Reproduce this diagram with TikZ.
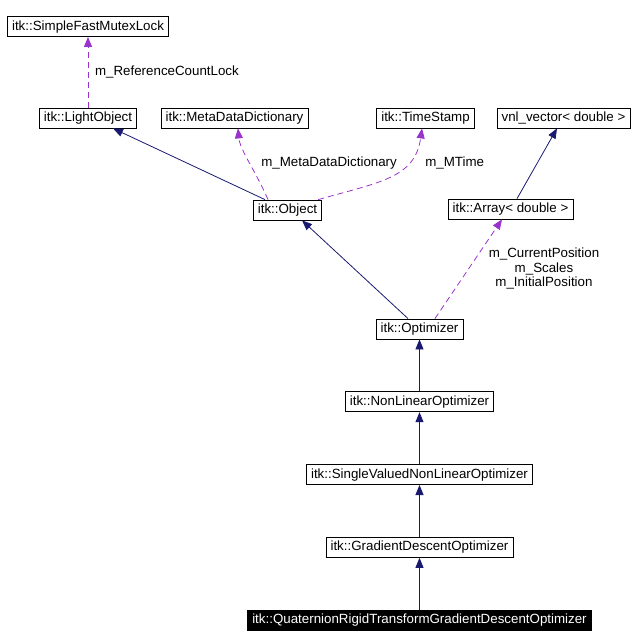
\documentclass[tikz,border=0pt]{standalone}
\usepackage{fontspec}
\setmainfont{Liberation Sans}
\usetikzlibrary{arrows.meta,positioning,calc}
\definecolor{dxnavy}{RGB}{25,25,112}
\definecolor{dxpurple}{RGB}{154,50,205}
\tikzset{
  cls/.style={
    draw=black,
    fill=white,
    line width=0.6pt,
    inner xsep=3.5pt,
    inner ysep=0pt,
    minimum height=15pt,
    text height=7.3pt,
    text depth=2pt,
    font=\fontsize{10}{11}\selectfont
  },
  focus/.style={
    cls,
    fill=black,
    text=white
  },
  lbl/.style={
    inner sep=0pt,
    align=center,
    text=black,
    font=\fontsize{10}{11}\selectfont
  },
  inherit/.style={-{Triangle[length=7.5pt,width=6pt]},line width=0.6pt,dxnavy},
  usage/.style={-{Triangle[length=7.5pt,width=6pt]},line width=0.6pt,dxpurple,dash pattern=on 4.5pt off 3pt}
}
\begin{document}
\begin{tikzpicture}[x=0.75pt,y=-0.75pt]
        \useasboundingbox (0,0) rectangle (632,644);

        \node[cls] (lobj) at (88,118) {itk::LightObject};
        \node[cls,above=53pt of lobj] (mutex) {itk::SimpleFastMutexLock};
        \node[cls] (mdd) at (234.5,118) {itk::MetaDataDictionary};
        \node[cls] (ts) at (425.5,118) {itk::TimeStamp};
        \node[cls] (vnl) at (563.5,118) {vnl\_vector< double >};
        \node[cls] (obj) at (287.5,210) {itk::Object};
        \node[cls] (arr) at (510.5,209) {itk::Array< double >};
        \node[cls] (opt) at (419.5,329) {itk::Optimizer};
        \node[cls,below=39pt of opt] (nlo) {itk::NonLinearOptimizer};
        \node[cls,below=39pt of nlo] (svnlo) {itk::SingleValuedNonLinearOptimizer};
        \node[cls,below=39pt of svnlo] (gdo) {itk::GradientDescentOptimizer};
        \node[focus,below=39pt of gdo] (qrt) {itk::QuaternionRigidTransformGradientDescentOptimizer};

        \draw[usage] (lobj) -- (mutex)
          node[lbl,midway,right=5pt] (lrcl) {m\_ReferenceCountLock};
        \draw[inherit] ([xshift=-16.9pt]obj.north) -- ([xshift=18.75pt]lobj.south);
        \draw[usage] ([xshift=-14.6pt]obj.north) .. controls (255,170) and (240,150) .. ([xshift=2.6pt]mdd.south);
        \draw[usage] ([xshift=-3pt]obj.north east) .. controls (380,182) and (415,178) .. ([xshift=-2.6pt]ts.south);
        \draw[inherit] ([xshift=4.9pt]arr.north) -- ([xshift=-4.9pt]vnl.south);
        \draw[inherit] ([xshift=-8.6pt]opt.north) -- ([xshift=10.9pt]obj.south);
        \draw[usage] ([xshift=11.6pt]opt.north) -- ([xshift=-6.4pt]arr.south);

        \draw[inherit] (nlo) -- (opt);
        \draw[inherit] (svnlo) -- (nlo);
        \draw[inherit] (gdo) -- (svnlo);
        \draw[inherit] (qrt) -- (gdo);

        \node[lbl,anchor=west] (lmdd) at (261,163) {m\_MetaDataDictionary};
        \node[lbl,anchor=west] (lmt) at (425,163) {m\_MTime};
        \node[lbl] (lpos) at (544,268.5) {m\_CurrentPosition\\m\_Scales\\m\_InitialPosition};
      \end{tikzpicture}
\end{document}
